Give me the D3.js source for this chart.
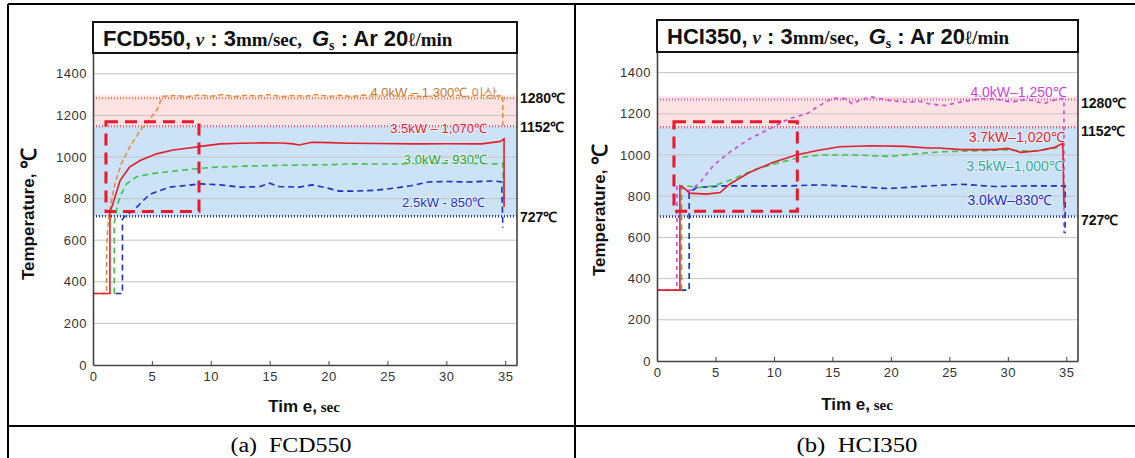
<!DOCTYPE html>
<html>
<head>
<meta charset="utf-8">
<script src="https://cdn.jsdelivr.net/npm/d3@7"></script>
<style>
  body { margin: 0; background: #fff; }
  svg { display: block; font-family: 'Liberation Sans', Arial, sans-serif; }
</style>
</head>
<body>
<svg id="chart" width="1135" height="458"></svg>
<script>
'use strict';

var timeTicks = [0, 5, 10, 15, 20, 25, 30, 35];
var tempTicks = [0, 200, 400, 600, 800, 1000, 1200, 1400];
var limitLabels = ['1280℃', '1152℃', '727℃'];
var captions = ['(a)  FCD550', '(b)  HCI350'];

// limit lines as they sit in the picture (1280 / 1152 / 727)
var fcdLimits = [1282, 1148, 715];
var hciLimits = [1270, 1135, 702];

// red dashed highlight box: [t0, t1, T0, T1]
var fcdBox = [1.1, 9.0, 738, 1170];
var hciBox = [1.45, 12.0, 727, 1161];

// FCD550, [sec, ℃]
var fcd40kW = [[0, 344], [1.15, 344], [1.15, 550], [1.3, 700], [1.5, 770], [1.86, 871], [2.4, 967],
  [3.1, 1046], [4.0, 1127], [4.7, 1175], [5.4, 1222], [5.8, 1278], [6.0, 1292], [7, 1296], [8, 1290],
  [9, 1298], [10, 1292], [11, 1300], [12, 1290], [13, 1297], [14, 1293], [15, 1300], [16, 1290],
  [17, 1296], [18, 1292], [19, 1300], [20, 1291], [21, 1297], [22, 1290], [23, 1298], [24, 1293],
  [25, 1300], [26, 1292], [27, 1296], [28, 1290], [29, 1298], [30, 1292], [31, 1297], [32, 1291],
  [33, 1298], [34, 1293], [34.8, 1295], [34.8, 1150]];
var fcd35kW = [[0, 344], [1.44, 344], [1.44, 740], [1.6, 760], [1.86, 807], [2.3, 887], [2.6, 911],
  [3.1, 951], [4.0, 983], [5.4, 1015], [6.8, 1034], [8.5, 1046], [9.1, 1051], [10.8, 1063], [12.5, 1066],
  [14.2, 1068], [16, 1067], [17, 1063], [17.5, 1058], [18.6, 1071], [20, 1069], [21.8, 1066], [24, 1065],
  [27.4, 1063], [30, 1064], [33, 1063], [34.6, 1075], [34.9, 1087], [34.9, 760]];
var fcd30kW = [[1.8, 344], [1.8, 680], [2.1, 775], [2.4, 823], [2.85, 871], [3.7, 905], [5, 920],
  [6.5, 930], [8.5, 942], [10, 950], [13, 956], [16, 960], [20, 963], [22, 967], [25, 966], [28, 968],
  [30.3, 971], [32, 969], [34.2, 967], [34.8, 970], [34.9, 780]];
var fcd25kW = [[1.9, 344], [2.5, 344], [2.5, 700], [2.85, 727], [3.3, 735], [4, 775], [4.8, 820],
  [5.7, 839], [6.5, 855], [7.9, 863], [9.1, 871], [10.8, 866], [12.5, 855], [14.2, 858], [15, 874],
  [15.8, 858], [17.5, 855], [18.6, 866], [19.8, 852], [20.9, 836], [22.3, 836], [24, 840], [25.5, 850],
  [27, 862], [28.5, 880], [30, 882], [32, 880], [34, 885], [34.7, 880], [34.8, 660]];
var fcdLabels = ['4.0kW – 1,300℃ 이상', '3.5kW – 1,070℃', '3.0kW - 930℃', '2.5kW - 850℃'];

// HCI350, [sec, ℃]
var hci40kW = [[0, 344], [1.7, 344], [1.7, 850], [2.8, 826], [3.7, 867], [4.8, 948], [6.2, 1013],
  [7.9, 1078], [9.9, 1135], [11.3, 1176], [12.8, 1200], [13.9, 1240], [15, 1276], [16.1, 1273],
  [16.7, 1249], [17.5, 1270], [18.4, 1281], [19.8, 1265], [21.2, 1257], [22.6, 1260], [23.2, 1249],
  [24.6, 1240], [26, 1257], [27.5, 1273], [28.9, 1273], [30.3, 1257], [31.7, 1270], [33.1, 1249],
  [34.3, 1273], [34.8, 1273], [34.8, 620]];
var hci37kW = [[0, 344], [1.96, 344], [1.96, 850], [2.3, 840], [2.8, 815], [4.2, 810], [5.4, 818],
  [6.2, 858], [7.9, 915], [9.9, 964], [11.9, 1000], [13.6, 1021], [15.6, 1040], [18.4, 1045],
  [21.2, 1042], [23.2, 1034], [24.1, 1034], [26, 1026], [28.9, 1026], [30, 1032], [31.1, 1013],
  [32.6, 1021], [34, 1037], [34.7, 1057], [34.8, 753]];
var hci35kW = [[2.1, 344], [2.1, 850], [2.2, 852], [3.7, 842], [4.8, 850], [6.5, 883], [8.5, 932],
  [10.5, 964], [12.2, 988], [14.1, 1000], [17, 1000], [19.8, 993], [22, 1005], [24.1, 1015], [27, 1020],
  [30, 1025], [32, 1018], [33.1, 1026], [34.7, 1040]];
var hci30kW = [[2.0, 344], [2.75, 344], [2.75, 818], [3.4, 842], [5.6, 850], [8.5, 850], [11.3, 850],
  [13.9, 855], [17, 847], [19.8, 837], [23.2, 850], [26, 858], [28.9, 847], [31.7, 850], [34.5, 850],
  [34.9, 850], [34.9, 620]];
var hciLabels = ['4.0kW–1,250℃', '3.7kW–1,020℃', '3.5kW–1,000℃', '3.0kW–830℃'];

var svg = d3.select('#chart');
var serif = "'Liberation Serif', 'Times New Roman', serif";

var panels = [{
  name: 'FCD550', left: 93, right: 517, top: 53, bottom: 365, titleTop: 22,
  limits: fcdLimits, box: fcdBox,
  limitColors: ['#d98a4e', '#e46a7c', '#1f2f9e'],
  series: [
    { data: fcd40kW, color: '#e58a3c', dash: '5,3', width: 1.5 },
    { data: fcd25kW, color: '#1c2fc0', dash: '6,4', width: 1.6 },
    { data: fcd30kW, color: '#3fc247', dash: '6,4', width: 1.6 },
    { data: fcd35kW, color: '#e31f2b', dash: null, width: 1.6 }
  ],
  labels: [
    { text: fcdLabels[0], t: 34.3, T: 1308, color: '#c27a35', size: 13 },
    { text: fcdLabels[1], t: 33.45, T: 1135, color: '#e31f2b', size: 13 },
    { text: fcdLabels[2], t: 33.45, T: 986, color: '#2e9c2e', size: 13 },
    { text: fcdLabels[3], t: 33.3, T: 779, color: '#1c2fc0', size: 13 }
  ],
  labelYs: [98, 127, 217],
  yTitle: [28, 214], xTitle: [304, 412], caption: [291, 452]
}, {
  name: 'HCI350', left: 657, right: 1078, top: 52, bottom: 361, titleTop: 20,
  limits: hciLimits, box: hciBox,
  limitColors: ['#e272b8', '#e4607a', '#1f2f9e'],
  series: [
    { data: hci40kW, color: '#cc49d9', dash: '4,4', width: 1.6 },
    { data: hci30kW, color: '#1c2fc0', dash: '6,4', width: 1.6 },
    { data: hci35kW, color: '#3fc247', dash: '6,4', width: 1.6 },
    { data: hci37kW, color: '#e31f2b', dash: null, width: 1.6 }
  ],
  labels: [
    { text: hciLabels[0], t: 35.05, T: 1306, color: '#cc44d6', size: 14 },
    { text: hciLabels[1], t: 34.9, T: 1087, color: '#e31f2b', size: 14 },
    { text: hciLabels[2], t: 34.7, T: 947, color: '#3aa89b', size: 14 },
    { text: hciLabels[3], t: 33.8, T: 782, color: '#1c2fc0', size: 14 }
  ],
  labelYs: [103, 131, 220],
  yTitle: [599, 210], xTitle: [857, 410], caption: [857, 452]
}];

// table frame around the two figures
var frame = svg.append('g').attr('stroke', '#000').attr('stroke-width', 2);
frame.append('line').attr('x1', 8).attr('x2', 1135).attr('y1', 4).attr('y2', 4);
frame.append('line').attr('x1', 8).attr('x2', 8).attr('y1', 4).attr('y2', 458);
frame.append('line').attr('x1', 575).attr('x2', 575).attr('y1', 4).attr('y2', 458);
frame.append('line').attr('x1', 8).attr('x2', 1135).attr('y1', 426).attr('y2', 426);

function drawPanel(p, idx) {
  var g = svg.append('g');
  var x = d3.scaleLinear().domain([0, 36]).range([p.left, p.right]);
  var y = d3.scaleLinear().domain([0, 1500]).range([p.bottom, p.top]);
  var w = p.right - p.left;

  // hardening windows
  g.append('rect')
    .attr('x', p.left).attr('width', w)
    .attr('y', y(p.limits[0]) - 3)
    .attr('height', y(p.limits[1]) - y(p.limits[0]) + 3)
    .attr('fill', '#fde2e3');
  g.append('rect')
    .attr('x', p.left).attr('width', w)
    .attr('y', y(p.limits[1]))
    .attr('height', y(p.limits[2]) - y(p.limits[1]))
    .attr('fill', '#cbe2f7');

  g.selectAll('.grid').data(tempTicks.slice(1)).enter().append('line')
    .attr('x1', p.left).attr('x2', p.right)
    .attr('y1', function(d) { return y(d); })
    .attr('y2', function(d) { return y(d); })
    .attr('stroke', '#c4c4c4').attr('stroke-width', 1);

  g.selectAll('.limit').data(p.limits).enter().append('line')
    .attr('x1', p.left).attr('x2', p.right)
    .attr('y1', function(d) { return y(d); })
    .attr('y2', function(d) { return y(d); })
    .attr('stroke', function(d, i) { return p.limitColors[i]; })
    .attr('stroke-width', 2.5)
    .attr('stroke-dasharray', '1,2');

  var line = d3.line()
    .x(function(d) { return x(d[0]); })
    .y(function(d) { return y(d[1]); });

  p.series.forEach(function(s) {
    g.append('path')
      .datum(s.data)
      .attr('d', line)
      .attr('fill', 'none')
      .attr('stroke', s.color)
      .attr('stroke-width', s.width)
      .attr('stroke-dasharray', s.dash);
  });

  g.append('rect')
    .attr('x', x(p.box[0])).attr('width', x(p.box[1]) - x(p.box[0]))
    .attr('y', y(p.box[3])).attr('height', y(p.box[2]) - y(p.box[3]))
    .attr('fill', 'none')
    .attr('stroke', '#e8192c')
    .attr('stroke-width', 3)
    .attr('stroke-dasharray', '12,7');

  p.labels.forEach(function(l) {
    g.append('text')
      .attr('x', x(l.t)).attr('y', y(l.T))
      .attr('text-anchor', 'end')
      .attr('dominant-baseline', 'central')
      .attr('font-size', l.size)
      .attr('fill', l.color)
      .attr('stroke', 'rgba(255,255,255,0.55)')
      .attr('stroke-width', 2)
      .attr('paint-order', 'stroke')
      .text(l.text);
  });

  // limit temperatures at the right of the plot
  g.selectAll('.limitLabel').data(limitLabels).enter().append('text')
    .attr('x', p.right + 3)
    .attr('y', function(d, i) { return p.labelYs[i]; })
    .attr('dominant-baseline', 'central')
    .attr('font-size', 14).attr('font-weight', 'bold')
    .attr('fill', '#111')
    .text(function(d) { return d; });

  var xAxis = g.append('g')
    .attr('transform', 'translate(0,' + p.bottom + ')')
    .call(d3.axisBottom(x).tickValues(timeTicks).tickSizeInner(-4).tickSizeOuter(0).tickPadding(7));
  var yAxis = g.append('g')
    .attr('transform', 'translate(' + p.left + ',0)')
    .call(d3.axisLeft(y).tickValues(tempTicks).tickFormat(d3.format('d')).tickSize(0).tickPadding(6));
  [xAxis, yAxis].forEach(function(a) {
    a.select('.domain').attr('stroke', '#444').attr('stroke-width', 1.6);
    a.selectAll('.tick line').attr('stroke', '#444');
    a.selectAll('.tick text')
      .attr('font-size', 13)
      .attr('font-family', "'Liberation Sans', Arial, sans-serif")
      .attr('letter-spacing', 0.5)
      .attr('fill', '#333');
  });

  g.append('line')
    .attr('x1', p.right).attr('x2', p.right)
    .attr('y1', p.top).attr('y2', p.bottom)
    .attr('stroke', '#444').attr('stroke-width', 1.6);

  // title box
  g.append('rect')
    .attr('x', p.left).attr('y', p.titleTop)
    .attr('width', w).attr('height', p.top - p.titleTop)
    .attr('fill', '#fff')
    .attr('stroke', '#111').attr('stroke-width', 2);

  var title = g.append('text')
    .attr('x', p.left + 10)
    .attr('y', p.titleTop + 24)
    .attr('font-weight', 'bold')
    .attr('fill', '#111');
  title.append('tspan').attr('font-size', 22).text(p.name + ',');
  title.append('tspan').attr('font-size', 19).attr('font-family', serif).attr('font-style', 'italic').text(' v');
  title.append('tspan').attr('font-size', 22).text(' : 3');
  title.append('tspan').attr('font-size', 19).attr('font-family', serif).text('mm/sec,');
  title.append('tspan').attr('font-size', 22).attr('font-style', 'italic').attr('dx', 10).text('G');
  title.append('tspan').attr('font-size', 14).attr('font-family', serif).attr('dy', 4).text('s');
  title.append('tspan').attr('font-size', 22).attr('dy', -4).text(' : Ar 20');
  title.append('tspan').attr('font-size', 19).attr('font-family', serif).text('ℓ/min');

  var yt = g.append('text')
    .attr('transform', 'translate(' + p.yTitle[0] + ',' + p.yTitle[1] + ') rotate(-90)')
    .attr('text-anchor', 'middle')
    .attr('dominant-baseline', 'central')
    .attr('font-size', 17).attr('font-weight', 'bold')
    .attr('fill', '#111');
  yt.append('tspan').text('Temperature, ');
  yt.append('tspan').attr('font-size', 21).text('℃');

  var xt = g.append('text')
    .attr('x', p.xTitle[0]).attr('y', p.xTitle[1])
    .attr('text-anchor', 'middle')
    .attr('font-weight', 'bold')
    .attr('fill', '#111');
  xt.append('tspan').attr('font-size', 17).text('Tim e,');
  xt.append('tspan').attr('font-size', 15).attr('font-family', serif).text(' sec');

  svg.append('text')
    .attr('x', p.caption[0]).attr('y', p.caption[1])
    .attr('text-anchor', 'middle')
    .attr('font-family', serif)
    .attr('font-size', 20)
    .attr('textLength', 121)
    .attr('lengthAdjust', 'spacingAndGlyphs')
    .attr('fill', '#000')
    .attr('xml:space', 'preserve')
    .text(captions[idx]);
}

panels.forEach(drawPanel);
</script>
</body>
</html>
